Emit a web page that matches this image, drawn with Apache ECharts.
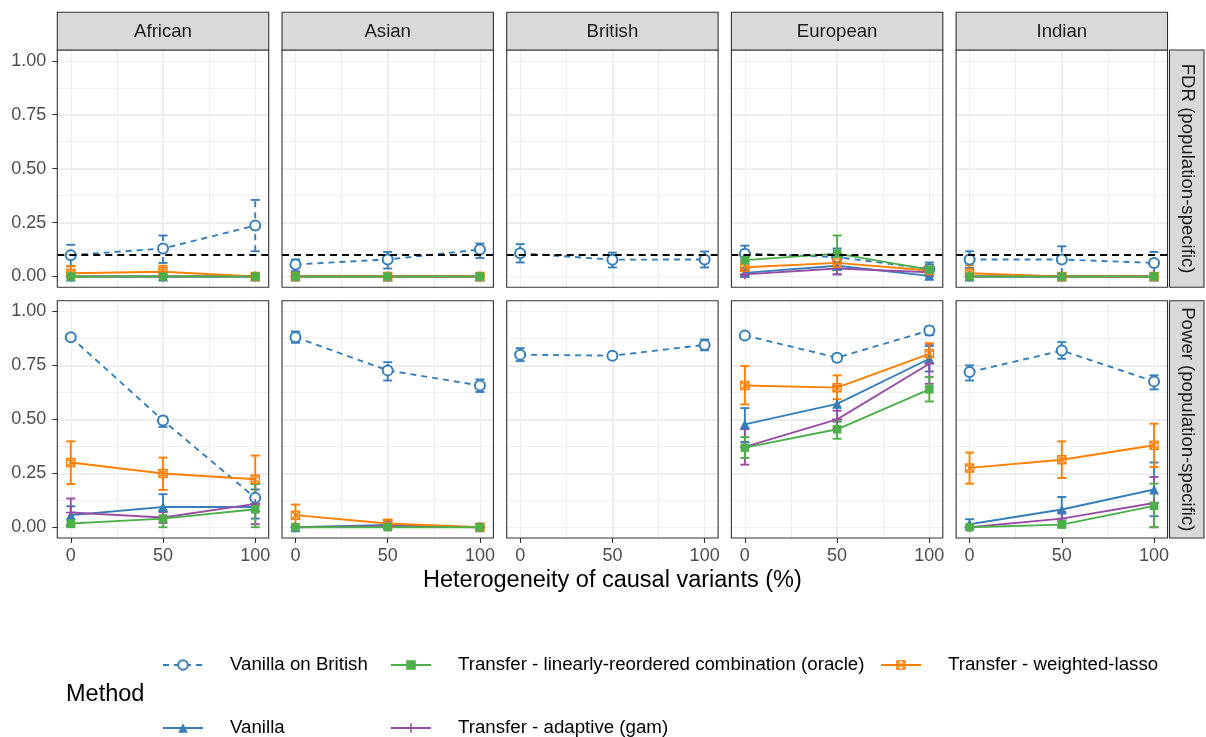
<!DOCTYPE html>
<html><head><meta charset="utf-8">
<script src="https://cdn.jsdelivr.net/npm/echarts@6/dist/echarts.min.js"></script>
<style>html,body{margin:0;padding:0;background:#fff}#c{width:1206px;height:737px}</style>
</head><body><div id="c"></div>
<script>
// ---------------- data ----------------
const populations = ['African', 'Asian', 'British', 'European', 'Indian'];
const metricLabels = ['FDR (population-specific)', 'Power (population-specific)'];
const heterogeneity = [0, 50, 100];
const xTickLabels = [0, 50, 100];
const yTickLabels = [0, 0.25, 0.5, 0.75, 1];
const fdrTarget = 0.1;
const methodNames = ['Vanilla on British', 'Vanilla', 'Transfer - adaptive (gam)', 'Transfer - weighted-lasso', 'Transfer - linearly-reordered combination (oracle)'];

// each population row: [mean, lower, upper] at 0, 50, 100 % heterogeneity
const fdrVanillaOnBritish = [
  [[0.099, 0.048, 0.147], [0.130, 0.063, 0.190], [0.236, 0.117, 0.355]],
  [[0.056, 0.025, 0.079], [0.079, 0.037, 0.114], [0.125, 0.086, 0.153]],
  [[0.108, 0.065, 0.150], [0.078, 0.042, 0.111], [0.079, 0.042, 0.116]],
  [[0.106, 0.070, 0.143], [0.090, 0.050, 0.130], [0.035, 0.005, 0.065]],
  [[0.079, 0.040, 0.117], [0.079, 0.010, 0.140], [0.063, 0.010, 0.114]]
];
const fdrVanilla = [
  [[0, 0, 0], [0, 0, 0], [0, 0, 0]],
  [[0, 0, 0], [0, 0, 0], [0, 0, 0]],
  null,
  [[0.017, 0, 0.040], [0.050, 0.010, 0.100], [0.003, 0, 0.020]],
  [[0, 0, 0], [0, 0, 0], [0, 0, 0]]
];
const fdrLinear = [
  [[0, 0, 0], [0, 0, 0], [0, 0, 0]],
  [[0, 0, 0], [0, 0, 0], [0, 0, 0]],
  null,
  [[0.076, 0.030, 0.120], [0.106, 0.030, 0.190], [0.032, 0.010, 0.055]],
  [[0, 0, 0], [0, 0, 0], [0, 0, 0]]
];
const fdrAdaptive = [
  [[0, 0, 0], [0, 0, 0], [0, 0, 0]],
  [[0, 0, 0], [0, 0, 0], [0, 0, 0]],
  null,
  [[0.010, 0, 0.025], [0.037, 0.010, 0.065], [0.020, 0.005, 0.035]],
  [[0, 0, 0], [0, 0, 0], [0, 0, 0]]
];
const fdrWeighted = [
  [[0.015, 0, 0.048], [0.022, 0, 0.050], [0, 0, 0]],
  [[0, 0, 0], [0, 0, 0], [0, 0, 0]],
  null,
  [[0.043, 0.010, 0.075], [0.063, 0.030, 0.100], [0.028, 0.010, 0.050]],
  [[0.015, 0, 0.052], [0, 0, 0], [0, 0, 0]]
];
const powerVanillaOnBritish = [
  [[0.881, 0.870, 0.892], [0.495, 0.465, 0.512], [0.136, 0.100, 0.175]],
  [[0.881, 0.855, 0.907], [0.727, 0.680, 0.765], [0.657, 0.627, 0.685]],
  [[0.800, 0.770, 0.830], [0.795, 0.785, 0.805], [0.845, 0.820, 0.870]],
  [[0.889, 0.875, 0.900], [0.786, 0.770, 0.800], [0.912, 0.890, 0.930]],
  [[0.719, 0.680, 0.750], [0.819, 0.781, 0.858], [0.676, 0.639, 0.704]]
];
const powerVanilla = [
  [[0.056, 0.010, 0.097], [0.094, 0.048, 0.153], [0.094, 0.040, 0.150]],
  [[0, 0, 0], [0.010, 0, 0.025], [0, 0, 0]],
  null,
  [[0.477, 0.395, 0.552], [0.572, 0.490, 0.655], [0.781, 0.722, 0.840]],
  [[0.014, 0, 0.037], [0.082, 0.025, 0.140], [0.175, 0.051, 0.300]]
];
const powerLinear = [
  [[0.017, 0, 0.035], [0.040, 0, 0.080], [0.083, 0, 0.200]],
  [[0, 0, 0], [0, 0, 0], [0, 0, 0]],
  null,
  [[0.369, 0.321, 0.418], [0.454, 0.410, 0.490], [0.639, 0.583, 0.696]],
  [[0, 0, 0], [0.012, 0, 0.030], [0.099, 0, 0.202]]
];
const powerAdaptive = [
  [[0.068, 0.005, 0.133], [0.045, 0.020, 0.070], [0.108, 0.014, 0.200]],
  [[0, 0, 0], [0.005, 0, 0.010], [0, 0, 0]],
  null,
  [[0.372, 0.290, 0.455], [0.500, 0.460, 0.540], [0.758, 0.665, 0.850]],
  [[0, 0, 0], [0.040, 0.010, 0.070], [0.112, 0, 0.233]]
];
const powerWeighted = [
  [[0.300, 0.200, 0.398], [0.249, 0.173, 0.323], [0.222, 0.102, 0.332]],
  [[0.056, 0.010, 0.105], [0.017, 0, 0.035], [0, 0, 0]],
  null,
  [[0.657, 0.569, 0.747], [0.647, 0.593, 0.704], [0.804, 0.760, 0.853]],
  [[0.275, 0.202, 0.346], [0.313, 0.228, 0.398], [0.380, 0.279, 0.480]]
];

// ---------------- styles / layout ----------------
const FONT = '"Liberation Sans", Arial, sans-serif';
const methodStyle = {
  'Vanilla on British': { color: '#377EB8', symbol: 'emptyCircle', size: 10, dash: [6, 5] },
  'Vanilla': { color: '#377EB8', symbol: 'triangle', size: 10 },
  'Transfer - adaptive (gam)': { color: '#984EA3', symbol: 'path://M4.2,0H5.8V10H4.2Z M0,4.2H10V5.8H0Z', size: 10 },
  'Transfer - weighted-lasso': { color: '#FF7F00', symbol: 'path://M0,0H10V10H0Z M1.4,1.4V8.6H8.6V1.4Z M0.6,1.6L1.6,0.6L9.4,8.4L8.4,9.4Z M8.4,0.6L9.4,1.6L1.6,9.4L0.6,8.4Z', size: 9.5 },
  'Transfer - linearly-reordered combination (oracle)': { color: '#4DAF4A', symbol: 'rect', size: 8.5 }
};
const metricData = [
  { 'Vanilla on British': fdrVanillaOnBritish, 'Vanilla': fdrVanilla, 'Transfer - adaptive (gam)': fdrAdaptive, 'Transfer - weighted-lasso': fdrWeighted, 'Transfer - linearly-reordered combination (oracle)': fdrLinear },
  { 'Vanilla on British': powerVanillaOnBritish, 'Vanilla': powerVanilla, 'Transfer - adaptive (gam)': powerAdaptive, 'Transfer - weighted-lasso': powerWeighted, 'Transfer - linearly-reordered combination (oracle)': powerLinear }
];

const PANEL_LEFT0 = 57.3, PANEL_STEP = 224.7, PANEL_W = 211.4;
const ROW_TOP = [50, 300.7], PANEL_H = 237.3;
const X_MIN = -7.3, X_MAX = 107.3, Y_MIN = -0.05, Y_MAX = 1.05;
const LINE_W = 1.9;

const grids = [], xAxes = [], yAxes = [], series = [], graphics = [];

for (let r = 0; r < 2; r++) {
  for (let c = 0; c < 5; c++) {
    const gi = r * 5 + c;
    const left = PANEL_LEFT0 + c * PANEL_STEP, top = ROW_TOP[r];
    grids.push({ left: left, top: top, width: PANEL_W, height: PANEL_H, show: true, backgroundColor: '#fff', borderWidth: 0, containLabel: false });
    xAxes.push({
      type: 'value', gridIndex: gi, min: X_MIN, max: X_MAX, minInterval: 50, maxInterval: 50, position: 'bottom',
      axisLine: { show: false, onZero: false },
      axisTick: { show: r === 1, customValues: xTickLabels, length: 5, lineStyle: { color: '#333', width: 1.1 } },
      axisLabel: { show: r === 1, customValues: xTickLabels, fontSize: 18, color: '#4D4D4D', fontFamily: FONT, margin: 9 },
      splitLine: { show: true, showMinLine: false, showMaxLine: false, lineStyle: { color: '#EBEBEB', width: 2 } }
    });
    xAxes.push({
      type: 'value', gridIndex: gi, min: X_MIN, max: X_MAX, minInterval: 25, maxInterval: 25, position: 'top',
      axisLine: { show: false, onZero: false }, axisTick: { show: false }, axisLabel: { show: false },
      splitLine: { show: true, showMinLine: false, showMaxLine: false, lineStyle: { color: '#EFEFEF', width: 1 } }
    });
    yAxes.push({
      type: 'value', gridIndex: gi, min: Y_MIN, max: Y_MAX, minInterval: 0.25, maxInterval: 0.25, position: 'left',
      axisLine: { show: false, onZero: false },
      axisTick: { show: c === 0, customValues: yTickLabels, length: 5, lineStyle: { color: '#333', width: 1.1 } },
      axisLabel: { show: c === 0, customValues: yTickLabels, formatter: v => v.toFixed(2), fontSize: 18, color: '#4D4D4D', fontFamily: FONT, margin: 11 },
      splitLine: { show: true, showMinLine: false, showMaxLine: false, lineStyle: { color: '#EBEBEB', width: 2 } }
    });
    yAxes.push({
      type: 'value', gridIndex: gi, min: Y_MIN, max: Y_MAX, minInterval: 0.125, maxInterval: 0.125, position: 'right',
      axisLine: { show: false, onZero: false }, axisTick: { show: false }, axisLabel: { show: false },
      splitLine: { show: true, showMinLine: false, showMaxLine: false, lineStyle: { color: '#EFEFEF', width: 1 } }
    });

    methodNames.forEach(m => {
      const rows = metricData[r][m][c];
      if (!rows) return;
      const st = methodStyle[m];
      const errData = rows.map((v, i) => [heterogeneity[i], v[1], v[2]]);
      const lineData = rows.map((v, i) => [heterogeneity[i], v[0]]);
      series.push({
        name: m + ' (interval)', type: 'custom', xAxisIndex: gi * 2, yAxisIndex: gi * 2,
        data: errData, encode: { x: 0, y: [1, 2] }, silent: true, clip: false,
        renderItem: (params, api) => {
          const x = api.value(0);
          const pLo = api.coord([x, api.value(1)]);
          const pHi = api.coord([x, api.value(2)]);
          const w = 4.5;
          return {
            type: 'group', children: [
              { type: 'line', shape: { x1: pLo[0], y1: pLo[1], x2: pHi[0], y2: pHi[1] }, style: { stroke: st.color, lineWidth: LINE_W, lineDash: st.dash || null, fill: null } },
              { type: 'line', shape: { x1: pHi[0] - w, y1: pHi[1], x2: pHi[0] + w, y2: pHi[1] }, style: { stroke: st.color, lineWidth: LINE_W } },
              { type: 'line', shape: { x1: pLo[0] - w, y1: pLo[1], x2: pLo[0] + w, y2: pLo[1] }, style: { stroke: st.color, lineWidth: LINE_W } }
            ]
          };
        }
      });
      const s = {
        name: m, type: 'line', xAxisIndex: gi * 2, yAxisIndex: gi * 2, data: lineData,
        symbol: st.symbol, symbolSize: st.size, showSymbol: true, clip: false,
        itemStyle: { color: st.color, borderWidth: st.symbol === 'emptyCircle' ? 1.7 : 0 },
        lineStyle: { color: st.color, width: LINE_W, type: st.dash || 'solid' },
        emphasis: { disabled: true }, silent: true
      };
      if (r === 0 && m === 'Vanilla on British') {
        s.markLine = {
          silent: true, symbol: ['none', 'none'], label: { show: false },
          lineStyle: { color: '#000', type: [7, 5], width: 1.8 },
          data: [{ yAxis: fdrTarget }], animation: false
        };
      }
      series.push(s);
    });

    graphics.push({ type: 'rect', z: 100, shape: { x: left, y: top, width: PANEL_W, height: PANEL_H }, style: { fill: null, stroke: '#333', lineWidth: 1.1 }, silent: true });
  }
}

populations.forEach((p, c) => {
  const left = PANEL_LEFT0 + c * PANEL_STEP;
  graphics.push({ type: 'rect', z: 100, shape: { x: left, y: 12.3, width: PANEL_W, height: 37.7 }, style: { fill: '#D9D9D9', stroke: '#333', lineWidth: 1.1 }, silent: true });
  graphics.push({ type: 'text', z: 101, x: left + PANEL_W / 2, y: 31.5, style: { text: p, textAlign: 'center', textVerticalAlign: 'middle', font: '18.6px ' + FONT, fill: '#1A1A1A' }, silent: true });
});
metricLabels.forEach((t, r) => {
  const x = 1169.5, w = 34.5;
  graphics.push({ type: 'rect', z: 100, shape: { x: x, y: ROW_TOP[r], width: w, height: PANEL_H }, style: { fill: '#D9D9D9', stroke: '#333', lineWidth: 1.1 }, silent: true });
  graphics.push({ type: 'text', z: 101, x: x + w / 2, y: ROW_TOP[r] + PANEL_H / 2, rotation: -Math.PI / 2, style: { text: t, textAlign: 'center', textVerticalAlign: 'middle', font: '18.6px ' + FONT, fill: '#1A1A1A' }, silent: true });
});
graphics.push({ type: 'text', x: 612.4, y: 581, style: { text: 'Heterogeneity of causal variants (%)', textAlign: 'center', textVerticalAlign: 'middle', font: '23.5px ' + FONT, fill: '#000' }, silent: true });
graphics.push({ type: 'text', x: 66, y: 695, style: { text: 'Method', textAlign: 'left', textVerticalAlign: 'middle', font: '23.5px ' + FONT, fill: '#000' }, silent: true });

// legend: one component per key, laid out in ggplot's 2-row arrangement
const legendSlots = [
  { name: 'Vanilla on British', left: 162, top: 655 },
  { name: 'Vanilla', left: 162, top: 718 },
  { name: 'Transfer - linearly-reordered combination (oracle)', left: 390, top: 655 },
  { name: 'Transfer - adaptive (gam)', left: 390, top: 718 },
  { name: 'Transfer - weighted-lasso', left: 880, top: 655 }
];
const legends = legendSlots.map(s => ({
  data: [s.name], left: s.left, top: s.top, padding: 0, orient: 'horizontal',
  itemWidth: 40, itemHeight: 12, selectedMode: false,
  textStyle: { fontSize: 18.7, color: '#000', fontFamily: FONT, padding: [0, 0, 0, 22], lineHeight: 20 }
}));

const chart = echarts.init(document.getElementById('c'), null, { renderer: 'canvas' });
chart.setOption({
  backgroundColor: '#fff',
  animation: false,
  textStyle: { fontFamily: FONT },
  grid: grids, xAxis: xAxes, yAxis: yAxes,
  legend: legends,
  series: series,
  graphic: graphics
});
</script></body></html>
